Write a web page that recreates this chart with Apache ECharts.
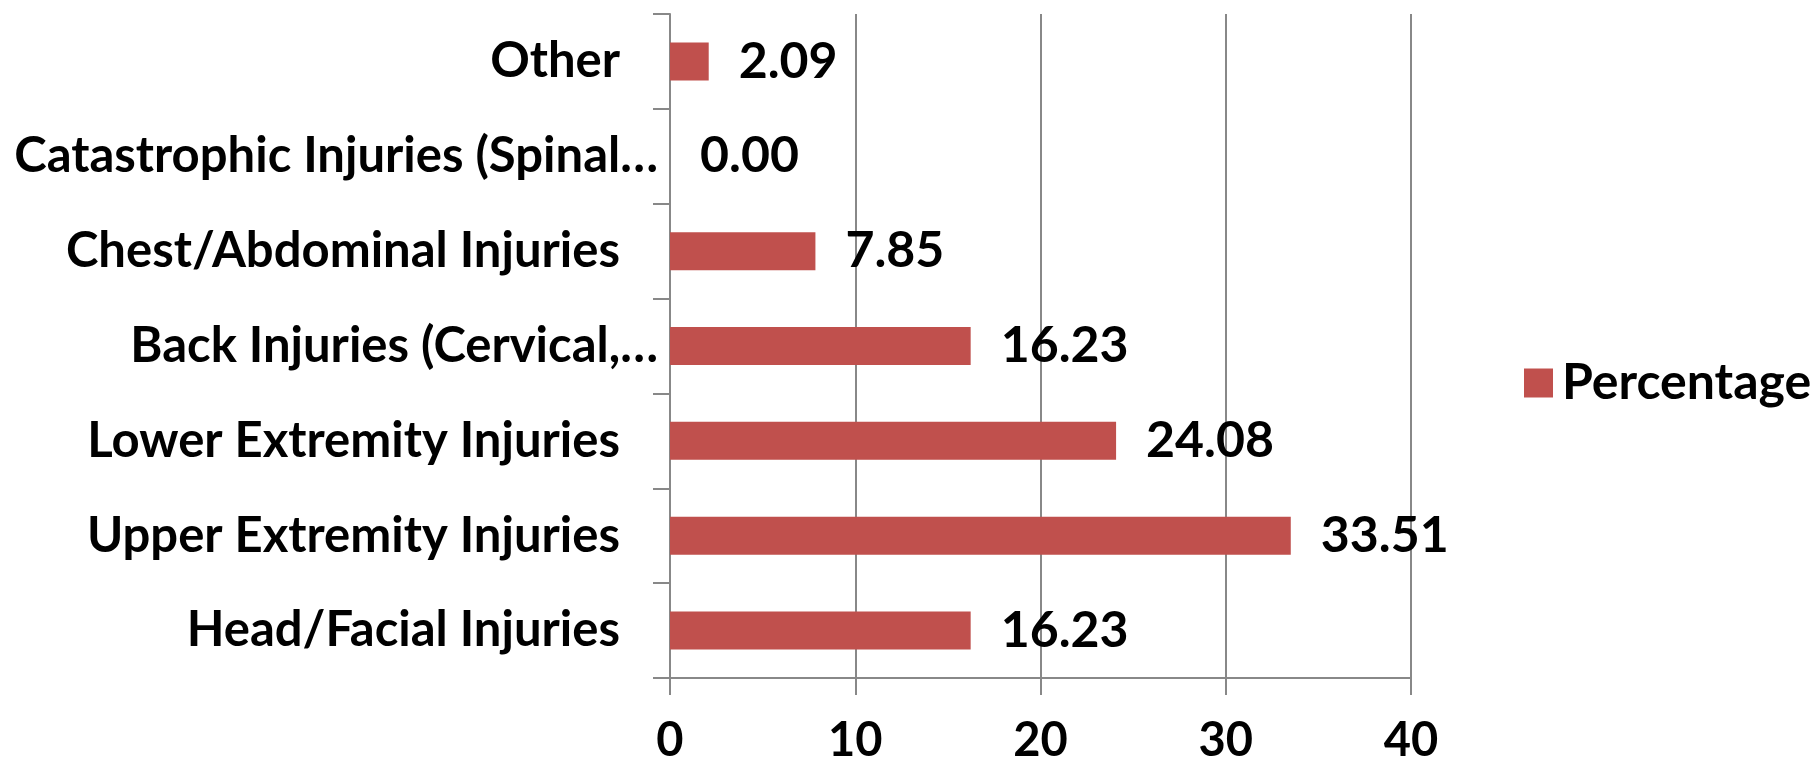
<!DOCTYPE html>
<html>
<head>
<meta charset="utf-8">
<script src="https://cdn.jsdelivr.net/npm/echarts@6/dist/echarts.min.js"></script>
<style>
html,body{margin:0;padding:0;background:#fff;}
#chart{width:1817px;height:766px;}
</style>
</head>
<body>
<div id="chart"></div>
<script>
var categories = [
  'Head/Facial Injuries',
  'Upper Extremity Injuries',
  'Lower Extremity Injuries',
  'Back Injuries (Cervical,\u2026',
  'Chest/Abdominal Injuries',
  'Catastrophic Injuries (Spinal\u2026',
  'Other'
];
var percentage = [16.23, 33.51, 24.08, 16.23, 7.85, 0.00, 2.09];
var seriesName = 'Percentage';
var xTicks = [0, 10, 20, 30, 40];

var FONT = 'Lato';
var chart = echarts.init(document.getElementById('chart'));
chart.setOption({
  animation: false,
  backgroundColor: '#ffffff',
  grid: { left: 670, right: 406, top: 14, bottom: 88, containLabel: false },
  legend: {
    data: [seriesName],
    left: 1524, top: 358, padding: 0,
    itemWidth: 29, itemHeight: 29, itemGap: 10,
    icon: 'rect',
    textStyle: { fontFamily: FONT, fontWeight: 'bold', fontSize: 50, color: '#000', padding: [0, 0, 0, 4] }
  },
  xAxis: {
    type: 'value', min: xTicks[0], max: xTicks[xTicks.length - 1], interval: 10,
    axisLine: { show: true, lineStyle: { color: '#888888', width: 2 } },
    axisTick: { show: true, length: 17, lineStyle: { color: '#888888', width: 2 } },
    splitLine: { show: true, lineStyle: { color: '#888888', width: 2 } },
    axisLabel: { margin: 39, fontFamily: FONT, fontWeight: 'bold', fontSize: 47, color: '#000' }
  },
  yAxis: {
    type: 'category', data: categories,
    axisLine: { show: true, lineStyle: { color: '#888888', width: 2 } },
    axisTick: { show: true, length: 17, lineStyle: { color: '#888888', width: 2 } },
    splitLine: { show: false },
    axisLabel: {
      margin: 12, fontFamily: FONT, fontWeight: 'bold', fontSize: 49, color: '#000',
      formatter: function (v) {
        return v.indexOf('\u2026') >= 0 ? '{e|' + v + '}' : '{n|' + v + '}';
      },
      rich: {
        e: { fontFamily: FONT, fontWeight: 'bold', fontSize: 49, color: '#000' },
        n: { fontFamily: FONT, fontWeight: 'bold', fontSize: 49, color: '#000', padding: [0, 38, 0, 0] }
      }
    }
  },
  series: [{
    name: seriesName, type: 'bar', data: percentage, barWidth: 38,
    itemStyle: { color: '#C0504D' },
    label: {
      show: true, position: 'right', distance: 30,
      fontFamily: FONT, fontWeight: 'bold', fontSize: 50, color: '#000',
      formatter: function (p) { return p.value.toFixed(2); }
    }
  }]
});
</script>
</body>
</html>
